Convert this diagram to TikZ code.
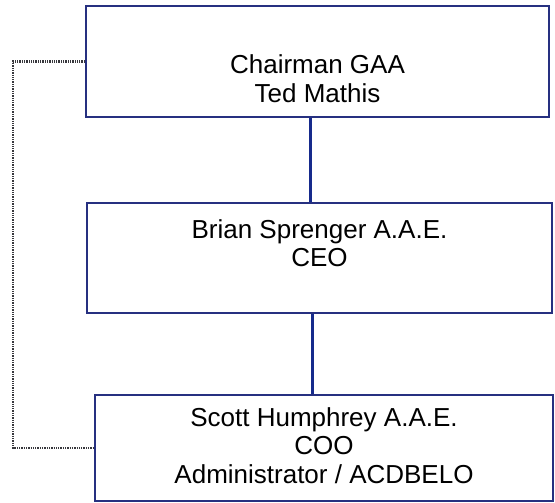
\documentclass[tikz,border=0pt]{standalone}
\usepackage{fontspec}
\setmainfont{Liberation Sans}
\usepackage{xcolor}
\definecolor{orgnavy}{RGB}{38, 48, 128}
\definecolor{orgblue}{RGB}{22, 42, 140}
\definecolor{orggray}{RGB}{55, 55, 60}
\usetikzlibrary{calc,positioning}

\begin{document}
\begin{tikzpicture}[x=1pt,y=-1pt,
    orgbox/.style={draw=orgnavy, line width=2pt, inner sep=0pt},
    orgtext/.style={align=center, inner sep=0pt, font=\fontsize{26}{28.5}\selectfont},
    link/.style={draw=orgblue, line width=3pt},
    dotline/.style={draw=orggray, line width=2.6pt, dash pattern=on 1.3pt off 1pt}]
    \useasboundingbox (0,0) rectangle (555,503);

    % Boxes
    \node[orgbox, minimum width=463pt, minimum height=111pt] (chair) at (317.5,61.5) {};
    \node[orgbox, minimum width=465pt, minimum height=110pt] (ceo) at (319.5,257.5) {};
    \node[orgbox, minimum width=458pt, minimum height=106pt] (coo) at (324,448) {};

    % Names
    \node[orgtext] (chairtxt) at ([yshift=-17pt]chair.center) {Chairman GAA\\Ted Mathis};
    \node[orgtext] (ceotxt) at ([yshift=14.5pt]ceo.center) {Brian Sprenger A.A.E.\\CEO};
    \node[orgtext] (cootxt) at ([yshift=2.5pt]coo.center) {Scott Humphrey A.A.E.\\COO\\Administrator / ACDBELO};

    % Reporting lines
    \draw[link] ([xshift=-7.5pt]chair.south) -- ([xshift=-7.5pt]chair.south |- ceo.north);
    \draw[link] ([xshift=-7.5pt]ceo.south) -- ([xshift=-7.5pt]ceo.south |- coo.north);

    % Dotted link
    \draw[dotline] (chair.west) -- ++(-72,0) |- (coo.west);
\end{tikzpicture}
\end{document}
